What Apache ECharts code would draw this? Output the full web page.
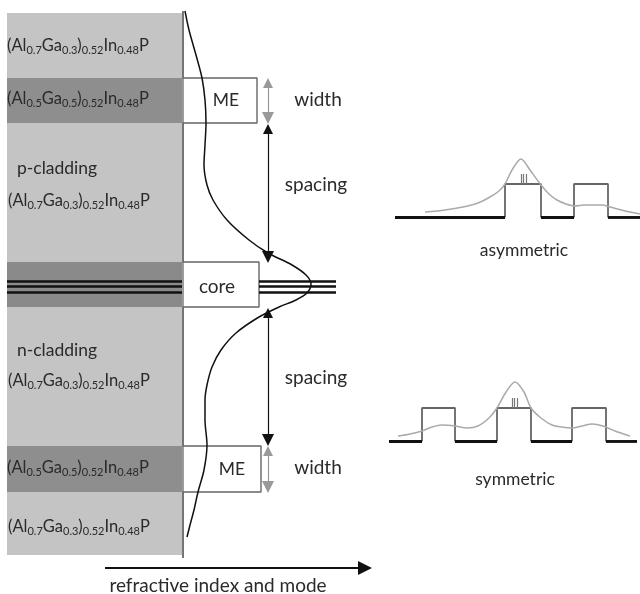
<!DOCTYPE html>
<html><head><meta charset="utf-8">
<script src="https://cdn.jsdelivr.net/npm/echarts@6/dist/echarts.min.js"></script>
<style>html,body{margin:0;padding:0;background:#fff}#c{width:640px;height:594px}</style>
</head><body><div id="c"></div>
<script>
// ---- layer stack (depth, top to bottom) ----
const layerEdges = [13, 78, 123, 262, 307, 446, 492, 555];
const layerKind = ['clad', 'me', 'clad', 'core', 'clad', 'me', 'clad'];
const layerIndex = [183, 257, 183, 259, 183, 261, 183]; // refractive-index level
const panelLeft = 7;
const panelRight = 182;
const profileTop = 11;
const profileBottom = 558;
const qwDepths = [281, 286, 292];
const qwRightEnd = 336;
// ---- optical mode ----
const modeDepth = [11, 30, 55, 78, 100, 123, 145, 165, 185, 200, 220, 240, 253, 265, 275, 284, 293, 300, 307, 317, 333, 350, 367, 385, 400, 420, 445, 470, 492, 510, 525, 537];
const modeValue = [185, 189, 196, 202, 205, 206, 205, 204, 207, 213, 227, 249, 268, 292, 306, 311, 307, 296, 279, 259, 236, 221, 212, 207, 205, 205, 207, 204, 198, 194, 190, 187];
// ---- dimension arrows ----
const arrowX = 268;
const widthArrows = [[78, 123], [446, 492]];
const spacingArrows = [[124, 262], [308, 445]];
// ---- labels ----
const compoundA = ['(Al', '0.7', 'Ga', '0.3', ')', '0.52', 'In', '0.48', 'P'];
const compoundB = ['(Al', '0.5', 'Ga', '0.5', ')', '0.52', 'In', '0.48', 'P'];
const panelLabels = [
  { f: compoundA, x: 7, y: 46 },
  { f: compoundB, x: 7, y: 99 },
  { t: 'p-cladding', x: 17, y: 168 },
  { f: compoundA, x: 8, y: 201 },
  { t: 'n-cladding', x: 17, y: 350 },
  { f: compoundA, x: 8, y: 381 },
  { f: compoundB, x: 7, y: 468 },
  { f: compoundA, x: 8, y: 527 }
];
const boxLabels = [{ t: 'ME', x: 226, y: 100 }, { t: 'core', x: 217, y: 287 }, { t: 'ME', x: 232, y: 469 }];
const sideLabels = [{ t: 'width', x: 318, y: 100 }, { t: 'spacing', x: 316, y: 185 }, { t: 'spacing', x: 316, y: 378 }, { t: 'width', x: 318, y: 468 }];
// ---- insets ----
const asymEdgesX = [395, 505, 541, 574, 608, 640];
const asymLevels = [217, 184, 217, 184, 217];
const asymModeX = [425, 445, 463, 478, 490, 499, 505, 512, 521, 530, 541, 549, 557, 566, 575, 584, 593, 602, 610, 625, 640];
const asymModeY = [212, 210, 207, 203, 197, 191, 184, 170, 159, 170, 185, 194, 200, 204, 206, 205, 205, 205, 207, 211, 214];
const asymQW = [521, 523.5, 526];
const asymQWRange = [174, 184];
const symEdgesX = [389, 422, 455, 497, 531, 572, 606, 637];
const symLevels = [441, 408, 441, 408, 441, 408, 441];
const symModeX = [398, 410, 422, 432, 442, 455, 467, 478, 489, 497, 506, 515, 524, 531, 541, 552, 562, 572, 582, 592, 603, 615, 630];
const symModeY = [436, 434, 431, 427, 425, 426, 428, 426, 418, 408, 392, 382, 392, 408, 418, 425, 427, 428, 426, 424, 426, 431, 436];
const symQW = [512, 514.5, 517];
const symQWRange = [398, 408];
const insetLabels = [{ t: 'asymmetric', x: 524, y: 250 }, { t: 'symmetric', x: 515, y: 479 }];
// ---- axis arrow ----
const axisArrow = [[105, 568], [365, 568]];
const axisLabel = { t: 'refractive index and mode', x: 218, y: 586 };

const FONT = 'Lato';
const layerColor = { clad: '#c4c4c4', me: '#8e8e8e', core: '#8a8a8a' };

function richText(tokens) {
  return tokens.map((s, i) => (i % 2 === 0 ? '{m|' + s + '}' : '{s|' + s + '}')).join('');
}
const formulaRich = {
  m: { fontSize: 16.5, fontFamily: FONT, fill: '#2a2a2a', color: '#2a2a2a', lineHeight: 20, verticalAlign: 'middle' },
  s: { fontSize: 11, fontFamily: FONT, fill: '#2a2a2a', color: '#2a2a2a', lineHeight: 11, verticalAlign: 'bottom' }
};

function stepPoints(edges, levels) {
  const pts = [];
  for (let i = 0; i < levels.length; i++) {
    pts.push([edges[i], levels[i]]);
    pts.push([edges[i + 1], levels[i]]);
  }
  return pts;
}
function lowSegments(edges, levels) {
  const base = Math.max.apply(null, levels);
  const segs = [];
  levels.forEach((l, i) => { if (l === base) segs.push({ coords: [[edges[i], l], [edges[i + 1], l]] }); });
  return segs;
}

// profile step line
const profilePts = [];
layerKind.forEach((k, i) => {
  profilePts.push([layerIndex[i], i === 0 ? profileTop : layerEdges[i]]);
  profilePts.push([layerIndex[i], i === layerKind.length - 1 ? profileBottom : layerEdges[i + 1]]);
});

const textItems = [];
panelLabels.forEach(l => textItems.push({ x: l.x, y: l.y, text: l.f ? richText(l.f) : l.t, rich: !!l.f, align: 'left', size: 17.5 }));
boxLabels.forEach(l => textItems.push({ x: l.x, y: l.y, text: l.t, align: 'center', size: l.t === 'ME' ? 17.5 : 19 }));
sideLabels.forEach(l => textItems.push({ x: l.x, y: l.y, text: l.t, align: 'center', size: 19 }));
insetLabels.forEach(l => textItems.push({ x: l.x, y: l.y, text: l.t, align: 'center', size: 17.5 }));
textItems.push({ x: axisLabel.x, y: axisLabel.y, text: axisLabel.t, align: 'center', size: 19 });

const qwSegs = [];
qwDepths.forEach(d => {
  qwSegs.push({ coords: [[panelLeft, d], [panelRight, d]] });
  qwSegs.push({ coords: [[layerIndex[3], d], [qwRightEnd, d]] });
});
const insetQWSegs = [];
asymQW.forEach(x => insetQWSegs.push({ coords: [[x, asymQWRange[0]], [x, asymQWRange[1]]] }));
symQW.forEach(x => insetQWSegs.push({ coords: [[x, symQWRange[0]], [x, symQWRange[1]]] }));

const chart = echarts.init(document.getElementById('c'));
chart.setOption({
  animation: false,
  backgroundColor: '#fff',
  grid: { left: 0, right: 0, top: 0, bottom: 0 },
  xAxis: { type: 'value', min: 0, max: 640, show: false },
  yAxis: { type: 'value', min: 0, max: 594, inverse: true, show: false },
  series: [
    { // layers
      type: 'custom', z: 1,
      data: layerKind.map((k, i) => [layerEdges[i], layerEdges[i + 1], i]),
      renderItem: function (params, api) {
        const p0 = api.coord([panelLeft, api.value(0)]);
        const p1 = api.coord([panelRight, api.value(1)]);
        return { type: 'rect', shape: { x: p0[0], y: p0[1], width: p1[0] - p0[0], height: p1[1] - p0[1] }, style: { fill: layerColor[layerKind[api.value(2)]] } };
      }
    },
    { // panel edge
      type: 'line', z: 2, symbol: 'none', data: [[panelRight + 1, profileTop], [panelRight + 1, profileBottom]],
      lineStyle: { color: '#666', width: 1.3 }
    },
    { // refractive index profile
      type: 'line', z: 3, symbol: 'none', data: profilePts, lineStyle: { color: '#666', width: 1.4 }
    },
    { // quantum wells
      type: 'lines', coordinateSystem: 'cartesian2d', z: 4, data: qwSegs,
      lineStyle: { color: '#111', width: 2.6, opacity: 1 }
    },
    { // mode
      type: 'line', z: 5, symbol: 'none', smooth: 0.3, data: modeValue.map((v, i) => [v, modeDepth[i]]),
      lineStyle: { color: '#111', width: 1.5 }
    },
    { // spacing arrows
      type: 'lines', coordinateSystem: 'cartesian2d', z: 6, symbol: ['triangle', 'triangle'], symbolSize: [10, 12],
      data: spacingArrows.map(a => ({ coords: [[arrowX, a[0] + 5], [arrowX, a[1] - 5]] })),
      lineStyle: { color: '#111', width: 1.2, opacity: 1 }, itemStyle: { color: '#111' }
    },
    { // width arrows
      type: 'lines', coordinateSystem: 'cartesian2d', z: 6, symbol: ['triangle', 'triangle'], symbolSize: [10, 12],
      data: widthArrows.map(a => ({ coords: [[arrowX, a[0] + 5], [arrowX, a[1] - 5]] })),
      lineStyle: { color: '#999', width: 1.2, opacity: 1 }, itemStyle: { color: '#999' }
    },
    { // axis arrow
      type: 'lines', coordinateSystem: 'cartesian2d', z: 6, symbol: ['none', 'triangle'], symbolSize: [12, 14],
      data: [{ coords: axisArrow }],
      lineStyle: { color: '#111', width: 2.2, opacity: 1 }, itemStyle: { color: '#111' }
    },
    // insets
    { type: 'line', z: 3, symbol: 'none', data: stepPoints(asymEdgesX, asymLevels), lineStyle: { color: '#666', width: 1.8 } },
    { type: 'line', z: 3, symbol: 'none', data: stepPoints(symEdgesX, symLevels), lineStyle: { color: '#666', width: 1.8 } },
    {
      type: 'lines', coordinateSystem: 'cartesian2d', z: 4,
      data: lowSegments(asymEdgesX, asymLevels).concat(lowSegments(symEdgesX, symLevels)),
      lineStyle: { color: '#111', width: 2.8, opacity: 1 }
    },
    { type: 'line', z: 5, symbol: 'none', smooth: 0.3, data: asymModeX.map((x, i) => [x, asymModeY[i]]), lineStyle: { color: '#aaa', width: 1.5 } },
    { type: 'line', z: 5, symbol: 'none', smooth: 0.3, data: symModeX.map((x, i) => [x, symModeY[i]]), lineStyle: { color: '#aaa', width: 1.5 } },
    {
      type: 'lines', coordinateSystem: 'cartesian2d', z: 5, data: insetQWSegs,
      lineStyle: { color: '#777', width: 1.2, opacity: 1 }
    },
    { // texts
      type: 'custom', z: 10,
      data: textItems.map((t, i) => [t.x, t.y, i]),
      renderItem: function (params, api) {
        const t = textItems[api.value(2)];
        const p = api.coord([api.value(0), api.value(1)]);
        const style = { text: t.text, fill: '#2a2a2a', fontSize: t.size, fontFamily: FONT, align: t.align, verticalAlign: 'middle' };
        if (t.rich) style.rich = formulaRich;
        return { type: 'text', x: p[0], y: p[1], style: style };
      }
    }
  ]
});
</script></body></html>
